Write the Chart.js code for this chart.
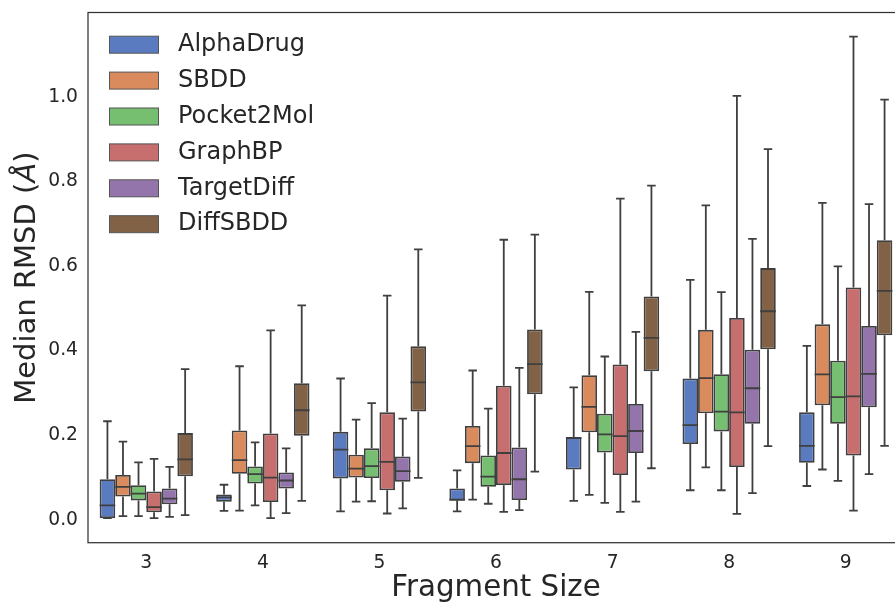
<!DOCTYPE html>
<html>
<head>
<meta charset="utf-8">
<script src="https://cdn.jsdelivr.net/npm/chart.js"></script>
<style>
  html, body { margin: 0; padding: 0; overflow: hidden; background: #fff; }
  #wrap { width: 910px; height: 602px; }
</style>
</head>
<body>
<div id="wrap"><canvas id="myChart"></canvas></div>
<script>
// fragment sizes on the x axis
var fragmentSizes = ['3', '4', '5', '6', '7', '8', '9'];
var yTicks = [0.0, 0.2, 0.4, 0.6, 0.8, 1.0];

// one row per fragment size: [lower whisker, q1, median, q3, upper whisker]
var alphaDrug = [
  [0.004, 0.004, 0.034, 0.096, 0.233],
  [0.021, 0.043, 0.053, 0.060, 0.083],
  [0.020, 0.098, 0.166, 0.208, 0.334],
  [0.020, 0.045, 0.048, 0.074, 0.117],
  [0.045, 0.119, 0.193, 0.196, 0.313],
  [0.070, 0.179, 0.224, 0.334, 0.567],
  [0.080, 0.135, 0.175, 0.254, 0.411]
];
var sbdd = [
  [0.009, 0.055, 0.078, 0.106, 0.185],
  [0.022, 0.109, 0.141, 0.211, 0.363],
  [0.043, 0.100, 0.121, 0.154, 0.237],
  [0.048, 0.134, 0.174, 0.222, 0.353],
  [0.059, 0.207, 0.267, 0.342, 0.539],
  [0.124, 0.252, 0.335, 0.449, 0.743],
  [0.119, 0.271, 0.344, 0.462, 0.749]
];
var pocket2Mol = [
  [0.009, 0.046, 0.062, 0.082, 0.136],
  [0.034, 0.086, 0.108, 0.126, 0.183],
  [0.044, 0.099, 0.127, 0.169, 0.276],
  [0.038, 0.078, 0.102, 0.152, 0.263],
  [0.040, 0.159, 0.202, 0.251, 0.386],
  [0.070, 0.209, 0.256, 0.344, 0.538],
  [0.092, 0.227, 0.290, 0.376, 0.599]
];
var graphBP = [
  [0.004, 0.018, 0.030, 0.067, 0.144],
  [0.004, 0.042, 0.100, 0.204, 0.448],
  [0.015, 0.070, 0.137, 0.254, 0.530],
  [0.019, 0.082, 0.158, 0.317, 0.662],
  [0.019, 0.106, 0.198, 0.367, 0.759],
  [0.014, 0.125, 0.254, 0.477, 1.002],
  [0.022, 0.152, 0.292, 0.549, 1.142]
];
var targetDiff = [
  [0.007, 0.037, 0.050, 0.074, 0.125],
  [0.016, 0.074, 0.093, 0.112, 0.169],
  [0.027, 0.090, 0.115, 0.150, 0.239],
  [0.023, 0.047, 0.096, 0.171, 0.359],
  [0.043, 0.158, 0.210, 0.274, 0.444],
  [0.063, 0.227, 0.311, 0.402, 0.664],
  [0.108, 0.266, 0.345, 0.458, 0.746]
];
var diffSBDD = [
  [0.011, 0.103, 0.143, 0.205, 0.356],
  [0.045, 0.199, 0.259, 0.323, 0.507],
  [0.099, 0.256, 0.325, 0.410, 0.639],
  [0.114, 0.297, 0.368, 0.450, 0.674],
  [0.122, 0.351, 0.430, 0.528, 0.790],
  [0.174, 0.403, 0.493, 0.595, 0.876],
  [0.175, 0.436, 0.541, 0.661, 0.993]
];

var models = ['AlphaDrug', 'SBDD', 'Pocket2Mol', 'GraphBP', 'TargetDiff', 'DiffSBDD'];
var modelStats = [alphaDrug, sbdd, pocket2Mol, graphBP, targetDiff, diffSBDD];
var colors = ['#5a7bc0', '#da8b5e', '#76bf71', '#c76e6e', '#9475ab', '#826246'];

var lineColor = '#3f3f3f';
var textColor = '#262626';
var font = 'DejaVu Sans';

// whiskers, caps and medians on top of the floating bars
var boxWhiskers = {
  id: 'boxWhiskers',
  afterDatasetsDraw: function(chart) {
    var ctx = chart.ctx;
    var y = chart.scales.y;
    ctx.save();
    ctx.strokeStyle = lineColor;
    ctx.lineWidth = 1.8;
    chart.data.datasets.forEach(function(ds, i) {
      chart.getDatasetMeta(i).data.forEach(function(bar, j) {
        var s = ds.stats[j];
        var x = bar.x, w = bar.width, cap = w * 0.55;
        var lo = y.getPixelForValue(s[0]);
        var q1 = y.getPixelForValue(s[1]);
        var med = y.getPixelForValue(s[2]);
        var q3 = y.getPixelForValue(s[3]);
        var hi = y.getPixelForValue(s[4]);
        ctx.beginPath();
        ctx.moveTo(x, q3); ctx.lineTo(x, hi);
        ctx.moveTo(x - cap / 2, hi); ctx.lineTo(x + cap / 2, hi);
        ctx.moveTo(x, q1); ctx.lineTo(x, lo);
        ctx.moveTo(x - cap / 2, lo); ctx.lineTo(x + cap / 2, lo);
        ctx.moveTo(x - w / 2, med); ctx.lineTo(x + w / 2, med);
        ctx.stroke();
      });
    });
    ctx.restore();
  }
};

// axes frame, y title with italic Å, legend inside the plot
var frameAndLegend = {
  id: 'frameAndLegend',
  afterDraw: function(chart) {
    var ctx = chart.ctx;
    var a = chart.chartArea;
    ctx.save();
    ctx.strokeStyle = '#333333';
    ctx.lineWidth = 1.25;
    ctx.strokeRect(a.left, a.top, a.right - a.left, a.bottom - a.top);

    // y axis title
    var parts = [['Median RMSD (', 'normal'], ['Å', 'italic'], [')', 'normal']];
    var widths = parts.map(function(p) {
      ctx.font = p[1] + ' 29px "' + font + '"';
      return ctx.measureText(p[0]).width;
    });
    var total = widths.reduce(function(s, w) { return s + w; }, 0);
    ctx.translate(27, (a.top + a.bottom) / 2);
    ctx.rotate(-Math.PI / 2);
    ctx.fillStyle = textColor;
    ctx.textBaseline = 'middle';
    ctx.textAlign = 'left';
    var px = -total / 2;
    parts.forEach(function(p, k) {
      ctx.font = p[1] + ' 29px "' + font + '"';
      ctx.fillText(p[0], px, 0);
      px += widths[k];
    });
    ctx.setTransform(1, 0, 0, 1, 0, 0);

    ctx.font = '24px "' + font + '"';
    ctx.textBaseline = 'middle';
    ctx.textAlign = 'left';
    chart.data.datasets.forEach(function(ds, i) {
      var cy = 44.7 + i * 35.9;
      ctx.fillStyle = ds.backgroundColor;
      ctx.fillRect(109.5, cy - 8.5, 49, 17);
      ctx.strokeStyle = '#555555';
      ctx.lineWidth = 1;
      ctx.strokeRect(109.5, cy - 8.5, 49, 17);
      ctx.fillStyle = textColor;
      ctx.fillText(ds.label, 178, cy);
    });
    ctx.restore();
  }
};

var ctx = document.getElementById('myChart');
var chart = new Chart(ctx, {
  type: 'bar',
  data: {
    labels: fragmentSizes,
    datasets: models.map(function(name, i) {
      return {
        label: name,
        stats: modelStats[i],
        data: modelStats[i].map(function(s) { return [s[1], s[3]]; }),
        backgroundColor: colors[i],
        borderColor: lineColor,
        borderWidth: 1.8,
        borderSkipped: false,
        categoryPercentage: 0.8,
        barPercentage: 1.0
      };
    })
  },
  options: {
    responsive: true,
    maintainAspectRatio: false,
    animation: false,
    layout: { padding: { top: 12.5, right: 6, left: 0, bottom: 0 } },
    plugins: {
      legend: { display: false },
      tooltip: { enabled: false }
    },
    scales: {
      x: {
        grid: { display: false, drawTicks: false },
        border: { display: false },
        ticks: { color: textColor, padding: 9, font: { family: font, size: 18.7 } },
        title: {
          display: true,
          text: 'Fragment Size',
          color: textColor,
          padding: { top: 0, bottom: -4 },
          font: { family: font, size: 29.3 }
        },
        afterFit: function(scale) { scale.height = 59.3; }
      },
      y: {
        min: -0.054,
        max: 1.199,
        grid: { display: false, drawTicks: false },
        border: { display: false },
        afterBuildTicks: function(scale) {
          scale.ticks = yTicks.map(function(v) { return { value: v }; });
        },
        ticks: {
          color: textColor,
          padding: 10,
          font: { family: font, size: 18.7 },
          callback: function(v) { return Number(v).toFixed(1); }
        },
        title: { display: false },
        afterFit: function(scale) {
          scale.width = 88;
          scale.paddingTop = 0;
          scale.paddingBottom = 0;
        }
      }
    }
  },
  plugins: [boxWhiskers, frameAndLegend]
});
</script>
</body>
</html>
